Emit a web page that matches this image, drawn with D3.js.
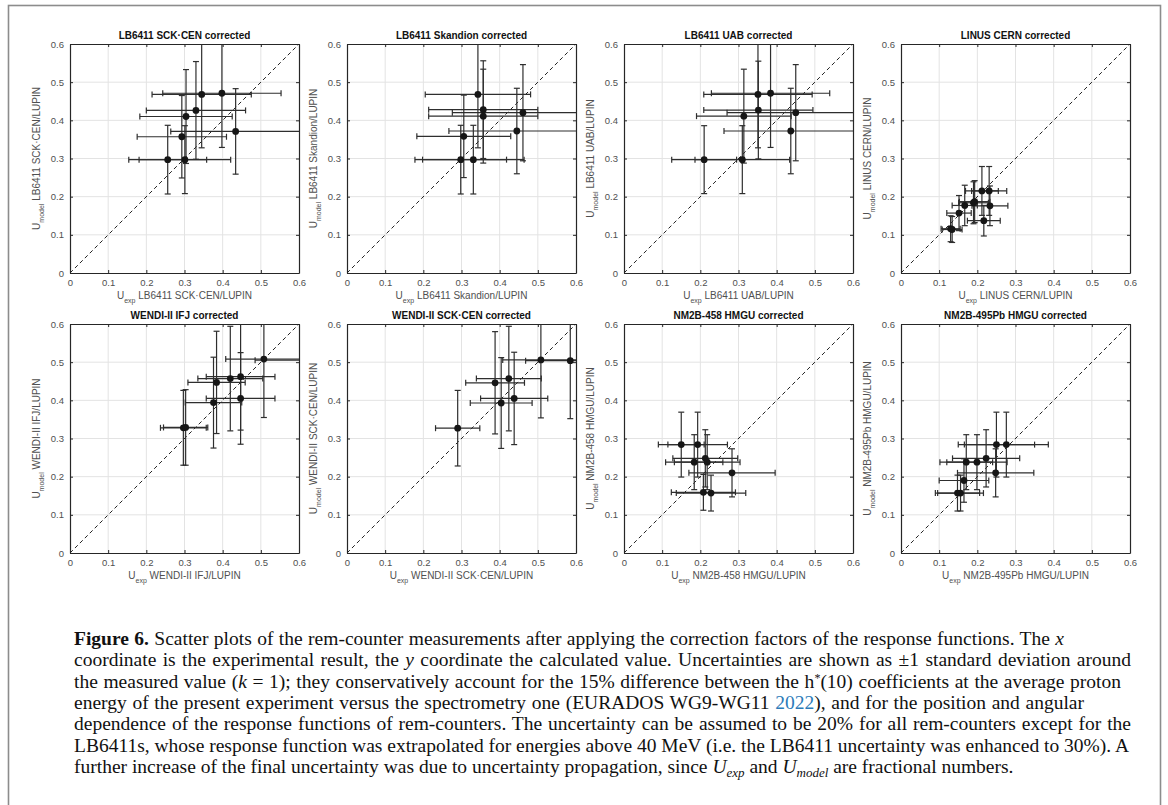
<!DOCTYPE html>
<html>
<head>
<meta charset="utf-8">
<script src="https://cdn.jsdelivr.net/npm/d3@7"></script>
<style>
  body { margin: 0; background: #fff; }
  svg text { font-family: "Liberation Sans", Arial, sans-serif; }
</style>
</head>
<body>
<svg id="fig" width="1168" height="805"></svg>
<script>
// panel titles and detector names (axis labels)
var panelTitles = ["LB6411 SCK\u00b7CEN corrected", "LB6411 Skandion corrected", "LB6411 UAB corrected", "LINUS CERN corrected",
                   "WENDI-II IFJ corrected", "WENDI-II SCK\u00b7CEN corrected", "NM2B-458 HMGU corrected", "NM2B-495Pb HMGU corrected"];
var detectorLabels = ["LB6411 SCK\u00b7CEN/LUPIN", "LB6411 Skandion/LUPIN", "LB6411 UAB/LUPIN", "LINUS CERN/LUPIN",
                      "WENDI-II IFJ/LUPIN", "WENDI-II SCK\u00b7CEN/LUPIN", "NM2B-458 HMGU/LUPIN", "NM2B-495Pb HMGU/LUPIN"];

// U_exp (x) per panel
var uExp = [
  [0.345, 0.398, 0.330, 0.304, 0.293, 0.434, 0.256, 0.301],
  [0.343, 0.357, 0.357, 0.461, 0.445, 0.306, 0.298, 0.331],
  [0.351, 0.384, 0.352, 0.314, 0.450, 0.437, 0.210, 0.310],
  [0.212, 0.231, 0.193, 0.190, 0.233, 0.167, 0.152, 0.217, 0.130, 0.134],
  [0.508, 0.610, 0.447, 0.447, 0.420, 0.384, 0.376, 0.297, 0.303],
  [0.508, 0.585, 0.424, 0.388, 0.438, 0.404, 0.290],
  [0.150, 0.193, 0.213, 0.184, 0.218, 0.283, 0.208, 0.228],
  [0.250, 0.276, 0.223, 0.171, 0.199, 0.248, 0.165, 0.148, 0.156]
];
// U_model (y) per panel
var uModel = [
  [0.468, 0.471, 0.426, 0.410, 0.357, 0.371, 0.297, 0.297],
  [0.468, 0.428, 0.411, 0.420, 0.372, 0.358, 0.297, 0.297],
  [0.468, 0.471, 0.427, 0.411, 0.420, 0.372, 0.297, 0.297],
  [0.215, 0.215, 0.187, 0.184, 0.176, 0.177, 0.157, 0.137, 0.116, 0.114],
  [0.508, 0.505, 0.462, 0.405, 0.457, 0.447, 0.394, 0.328, 0.329],
  [0.506, 0.504, 0.457, 0.446, 0.405, 0.393, 0.327],
  [0.284, 0.284, 0.248, 0.238, 0.238, 0.210, 0.159, 0.157],
  [0.284, 0.284, 0.248, 0.238, 0.238, 0.210, 0.190, 0.157, 0.157]
];
// +-1 sd on x
var errExp = [
  [0.130, 0.155, 0.130, 0.121, 0.117, 0.170, 0.102, 0.120],
  [0.138, 0.143, 0.143, 0.185, 0.178, 0.123, 0.120, 0.133],
  [0.142, 0.155, 0.143, 0.124, 0.180, 0.175, 0.085, 0.124],
  [0.043, 0.046, 0.040, 0.039, 0.047, 0.033, 0.032, 0.043, 0.025, 0.026],
  [0.100, 0.125, 0.090, 0.090, 0.085, 0.075, 0.074, 0.060, 0.058],
  [0.100, 0.117, 0.085, 0.077, 0.088, 0.081, 0.058],
  [0.060, 0.078, 0.085, 0.075, 0.086, 0.113, 0.084, 0.091],
  [0.100, 0.110, 0.088, 0.069, 0.079, 0.100, 0.065, 0.058, 0.060]
];
// +-1 sd on y
var errModel = [
  [0.140, 0.142, 0.128, 0.123, 0.108, 0.112, 0.090, 0.089],
  [0.140, 0.128, 0.123, 0.126, 0.112, 0.108, 0.090, 0.090],
  [0.140, 0.142, 0.128, 0.123, 0.126, 0.112, 0.089, 0.089],
  [0.064, 0.064, 0.055, 0.055, 0.052, 0.053, 0.046, 0.040, 0.034, 0.034],
  [0.153, 0.152, 0.140, 0.120, 0.137, 0.134, 0.119, 0.098, 0.099],
  [0.152, 0.152, 0.137, 0.134, 0.121, 0.119, 0.099],
  [0.085, 0.085, 0.075, 0.072, 0.072, 0.063, 0.047, 0.047],
  [0.085, 0.085, 0.075, 0.072, 0.072, 0.063, 0.057, 0.047, 0.047]
];

var tickValues = [0, 0.1, 0.2, 0.3, 0.4, 0.5, 0.6];
var tickLabels = ["0", "0.1", "0.2", "0.3", "0.4", "0.5", "0.6"];

var captionLines = [
  [["b", "Figure 6."], ["", " Scatter plots of the rem-counter measurements after applying the correction factors of the response functions. The "], ["i", "x"]],
  [["", "coordinate is the experimental result, the "], ["i", "y"], ["", " coordinate the calculated value. Uncertainties are shown as \u00b11 standard deviation around"]],
  [["", "the measured value ("], ["i", "k"], ["", " = 1); they conservatively account for the 15% difference between the h"], ["sup", "*"], ["", "(10) coefficients at the average proton"]],
  [["", "energy of the present experiment versus the spectrometry one (EURADOS WG9-WG11 "], ["link", "2022"], ["", "), and for the position and angular"]],
  [["", "dependence of the response functions of rem-counters. The uncertainty can be assumed to be 20% for all rem-counters except for the"]],
  [["", "LB6411s, whose response function was extrapolated for energies above 40 MeV (i.e. the LB6411 uncertainty was enhanced to 30%). A"]],
  [["", "further increase of the final uncertainty was due to uncertainty propagation, since "], ["i", "U"], ["isub", "exp"], ["", " and "], ["i", "U"], ["isub", "model"], ["", " are fractional numbers."]]
];
var captionRight = [1064, 1131, 1121, 1084, 1131, 1129, null];

// layout
var W = 229, H = 229;
var colX = [70, 347, 624, 901];
var rowY = [44, 324];

var svg = d3.select("#fig");

// outer frame
svg.append("rect")
  .attr("x", 8.5).attr("y", 5.5)
  .attr("width", 1152).attr("height", 900)
  .style("fill", "none").style("stroke", "#8c8c8c").style("stroke-width", 1.6);

var x = d3.scaleLinear().domain([0, 0.6]).range([0, W]);
var y = d3.scaleLinear().domain([0, 0.6]).range([H, 0]);

function fmt(d) { return tickLabels[tickValues.indexOf(d)]; }

draw_panel = function(p) {
  var g = svg.append("g")
    .attr("transform", "translate(" + colX[p % 4] + "," + rowY[Math.floor(p / 4)] + ")");

  var clipId = "clip" + p;
  g.append("clipPath").attr("id", clipId)
    .append("rect").attr("width", W).attr("height", H);

  // grid
  g.selectAll(".gx").data(tickValues.slice(1, 6)).enter().append("line")
    .attr("x1", function(d) { return x(d); }).attr("x2", function(d) { return x(d); })
    .attr("y1", 0).attr("y2", H)
    .style("stroke", "#e3e3e3").style("stroke-width", 1);
  g.selectAll(".gy").data(tickValues.slice(1, 6)).enter().append("line")
    .attr("y1", function(d) { return y(d); }).attr("y2", function(d) { return y(d); })
    .attr("x1", 0).attr("x2", W)
    .style("stroke", "#e3e3e3").style("stroke-width", 1);

  // axes, ticks pointing in
  var ax = [
    g.append("g").attr("transform", "translate(0," + H + ")")
      .call(d3.axisBottom(x).tickValues(tickValues).tickFormat(fmt).tickSizeInner(-3).tickSizeOuter(0).tickPadding(6)),
    g.append("g")
      .call(d3.axisLeft(y).tickValues(tickValues).tickFormat(fmt).tickSizeInner(-3).tickSizeOuter(0).tickPadding(6)),
    g.append("g")
      .call(d3.axisTop(x).tickValues(tickValues).tickFormat("").tickSizeInner(-3).tickSizeOuter(0)),
    g.append("g").attr("transform", "translate(" + W + ",0)")
      .call(d3.axisRight(y).tickValues(tickValues).tickFormat("").tickSizeInner(-3).tickSizeOuter(0))
  ];
  ax.forEach(function(a) {
    a.select(".domain").style("stroke", "#262626").style("stroke-width", 1.2);
    a.selectAll(".tick line").style("stroke", "#262626");
    a.selectAll(".tick text").style("fill", "#505050").style("font-size", "9.5px")
      .style("font-family", "'Liberation Sans', Arial, sans-serif");
  });

  // diagonal
  g.append("line")
    .attr("x1", x(0)).attr("y1", y(0)).attr("x2", x(0.6)).attr("y2", y(0.6))
    .style("stroke", "#222").style("stroke-width", 1).style("stroke-dasharray", "4,3");

  var pts = uExp[p].map(function(v, i) {
    return { x: v, y: uModel[p][i], ex: errExp[p][i], ey: errModel[p][i] };
  });

  var marks = g.append("g").attr("clip-path", "url(#" + clipId + ")");
  var cap = 3;
  pts.forEach(function(d) {
    var e = marks.append("g").style("stroke", "#2e2e2e").style("stroke-width", 1.2).style("fill", "none");
    // horizontal bar
    e.append("line").attr("x1", x(d.x - d.ex)).attr("x2", x(d.x + d.ex)).attr("y1", y(d.y)).attr("y2", y(d.y));
    e.append("line").attr("x1", x(d.x - d.ex)).attr("x2", x(d.x - d.ex)).attr("y1", y(d.y) - cap).attr("y2", y(d.y) + cap);
    e.append("line").attr("x1", x(d.x + d.ex)).attr("x2", x(d.x + d.ex)).attr("y1", y(d.y) - cap).attr("y2", y(d.y) + cap);
    // vertical bar
    e.append("line").attr("y1", y(d.y - d.ey)).attr("y2", y(d.y + d.ey)).attr("x1", x(d.x)).attr("x2", x(d.x));
    e.append("line").attr("y1", y(d.y - d.ey)).attr("y2", y(d.y - d.ey)).attr("x1", x(d.x) - cap).attr("x2", x(d.x) + cap);
    e.append("line").attr("y1", y(d.y + d.ey)).attr("y2", y(d.y + d.ey)).attr("x1", x(d.x) - cap).attr("x2", x(d.x) + cap);
  });
  marks.selectAll("circle").data(pts).enter().append("circle")
    .attr("cx", function(d) { return x(d.x); })
    .attr("cy", function(d) { return y(d.y); })
    .attr("r", 3.4)
    .style("fill", "#161616");

  // title
  g.append("text")
    .attr("x", W / 2).attr("y", -5)
    .attr("text-anchor", "middle")
    .style("font-size", "10px").style("font-weight", "bold").style("fill", "#111")
    .text(panelTitles[p]);

  // x label
  var xl = g.append("text")
    .attr("x", W / 2).attr("y", H + 26)
    .attr("text-anchor", "middle")
    .style("font-size", "10px").style("fill", "#505050");
  xl.append("tspan").text("U");
  xl.append("tspan").attr("dy", 3.5).style("font-size", "7px").text("exp");
  xl.append("tspan").attr("dy", -3.5).text(" " + detectorLabels[p]);

  // y label
  var yl = g.append("text")
    .attr("transform", "translate(-30," + (H / 2) + ") rotate(-90)")
    .attr("text-anchor", "middle")
    .style("font-size", "10px").style("fill", "#505050");
  yl.append("tspan").text("U");
  yl.append("tspan").attr("dy", 3.5).style("font-size", "7px").text("model");
  yl.append("tspan").attr("dy", -3.5).text(" " + detectorLabels[p]);
}

for (var p = 0; p < 8; p++) draw_panel(p);

// caption, justified by word spacing
var capG = svg.append("g").attr("class", "caption");
captionLines.forEach(function(line, li) {
  var t = capG.append("text")
    .attr("x", 74).attr("y", 645 + li * 21.3)
    .style("font-family", "'Liberation Serif', 'Times New Roman', serif")
    .style("font-size", "19.5px").style("fill", "#111");
  line.forEach(function(part) {
    var s = t.append("tspan").text(part[1]);
    if (part[0] == "b") s.style("font-weight", "bold");
    if (part[0] == "i") s.style("font-style", "italic");
    if (part[0] == "link") s.style("fill", "#2b7bb9");
    if (part[0] == "sup") s.attr("dy", -6).style("font-size", "12px");
    if (part[0] == "isub") s.attr("dy", 4).style("font-size", "13px").style("font-style", "italic");
  });
  // undo baseline shifts for the part after sup/sub
  t.selectAll("tspan").each(function(d, i) {
    var prev = i > 0 ? line[i - 1][0] : "";
    if (prev == "sup") d3.select(this).attr("dy", 6);
    if (prev == "isub") d3.select(this).attr("dy", -4);
  });
  if (captionRight[li]) {
    var natural = t.node().getComputedTextLength();
    var spaces = 0;
    line.forEach(function(part) { spaces += (part[1].match(/ /g) || []).length; });
    var extra = (captionRight[li] - 74 - natural) / spaces;
    t.style("word-spacing", extra + "px");
  }
});
</script>
</body>
</html>
